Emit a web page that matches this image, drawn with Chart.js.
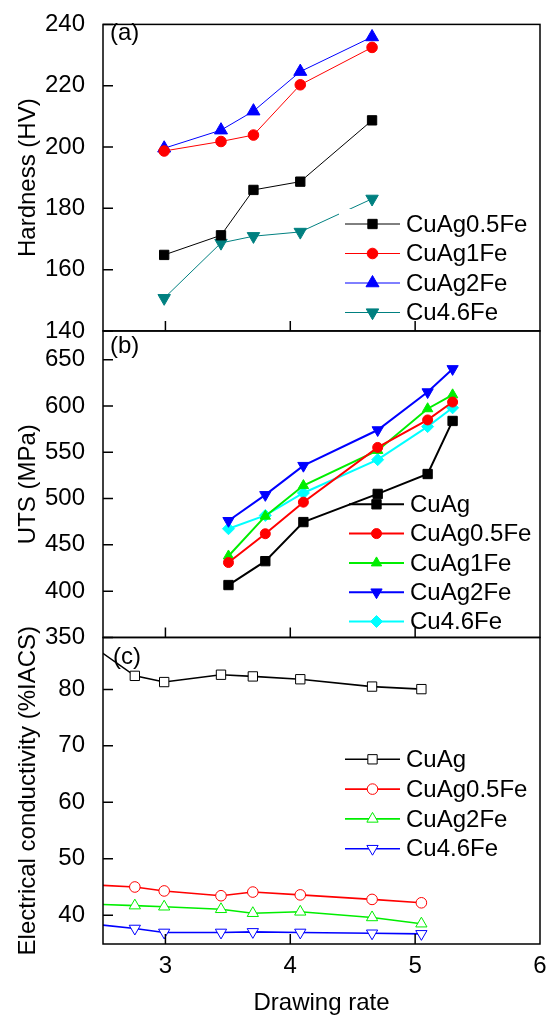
<!DOCTYPE html>
<html>
<head>
<meta charset="utf-8">
<title>Drawing rate</title>
<script src="https://cdn.jsdelivr.net/npm/chart.js"></script>
<style>
  html, body { margin: 0; padding: 0; background: #fff; }
  #wrap { position: relative; width: 553px; height: 1020px; }
</style>
</head>
<body>
<div id="wrap"><canvas id="rates" width="553" height="1020"></canvas></div>
<script>
// (a) hardness
const rateA = [2.99, 3.445, 3.705, 4.08, 4.655];
const hvCuAg05Fe = [164.8, 171.2, 186.0, 188.7, 208.7];
const hvCuAg1Fe = [198.7, 201.8, 203.9, 220.3, 232.5];
const hvCuAg2Fe = [199.6, 205.5, 211.7, 224.6, 235.9];
const hvCu46Fe = [150.7, 168.7, 170.9, 172.3, 183.1];

// (b) UTS
const rateB = [3.505, 3.80, 4.105, 4.70, 5.10, 5.30];
const utsCuAg = [406.6, 432.4, 474.6, 505, 526.5, 583.8];
const utsCuAg05Fe = [430.9, 462, 496.1, 555.2, 584.9, 604.2];
const utsCuAg1Fe = [438, 481, 514, 552, 597, 612];
const utsCuAg2Fe = [476, 504, 535.5, 574, 615, 640];
const utsCu46Fe = [467.4, 481.8, 506, 542, 577.7, 598];

// (c) electrical conductivity (first point lies left of the axis)
const rateC = [2.3, 2.755, 2.99, 3.445, 3.70, 4.08, 4.655, 5.05];
const ecCuAg = [89.5, 82.4, 81.3, 82.6, 82.3, 81.8, 80.5, 80.05];
const ecCuAg05Fe = [45.5, 45.0, 44.3, 43.45, 44.1, 43.6, 42.8, 42.2];
const ecCuAg2Fe = [42.05, 41.7, 41.5, 41.05, 40.35, 40.6, 39.6, 38.5];
const ecCu46Fe = [38.7, 37.65, 36.95, 36.95, 37.05, 36.95, 36.8, 36.7];

// tick labels
const rateTicks = [3, 4, 5, 6];
const hvTicks = [140, 160, 180, 200, 220, 240];
const utsTicks = [350, 400, 450, 500, 550, 600, 650];
const ecTicks = [40, 50, 60, 70, 80];

const FONT = "'Liberation Sans', Arial, sans-serif";
Chart.defaults.font.family = FONT;
Chart.defaults.font.size = 24;
Chart.defaults.color = '#000';

const series = (label, xs, ys, axis, st) => ({
  label,
  yAxisID: axis,
  data: xs.map((x, i) => ({ x, y: ys[i] })),
  borderColor: st.color,
  backgroundColor: st.fill,
  borderWidth: st.width,
  pointStyle: st.shape,
  pointRadius: st.r,
  pointRotation: st.rot || 0,
  pointBackgroundColor: st.fill,
  pointBorderColor: st.color,
  pointBorderWidth: 1,
  pointHoverRadius: st.r,
  tension: 0,
  clip: 0
});

const datasets = [
  series('CuAg0.5Fe', rateA, hvCuAg05Fe, 'ya', { color: '#000', fill: '#000', width: 1, shape: 'rect', r: 6.6 }),
  series('CuAg1Fe', rateA, hvCuAg1Fe, 'ya', { color: '#ff0000', fill: '#ff0000', width: 1, shape: 'circle', r: 5.3 }),
  series('CuAg2Fe', rateA, hvCuAg2Fe, 'ya', { color: '#0000ff', fill: '#0000ff', width: 1, shape: 'triangle', r: 7.5 }),
  series('Cu4.6Fe', rateA, hvCu46Fe, 'ya', { color: '#008080', fill: '#008080', width: 1, shape: 'triangle', r: 7.2, rot: 180 }),

  series('CuAg', rateB, utsCuAg, 'yb', { color: '#000', fill: '#000', width: 2, shape: 'rect', r: 6.6 }),
  series('CuAg0.5Fe', rateB, utsCuAg05Fe, 'yb', { color: '#ff0000', fill: '#ff0000', width: 2, shape: 'circle', r: 5 }),
  series('CuAg1Fe', rateB, utsCuAg1Fe, 'yb', { color: '#00ee00', fill: '#00ee00', width: 2, shape: 'triangle', r: 6 }),
  series('CuAg2Fe', rateB, utsCuAg2Fe, 'yb', { color: '#0000ff', fill: '#0000ff', width: 2, shape: 'triangle', r: 6.5, rot: 180 }),
  series('Cu4.6Fe', rateB, utsCu46Fe, 'yb', { color: '#00ffff', fill: '#00ffff', width: 2, shape: 'rectRot', r: 6 }),

  series('CuAg', rateC, ecCuAg, 'yc', { color: '#000', fill: '#fff', width: 1.6, shape: 'rect', r: 6.6 }),
  series('CuAg0.5Fe', rateC, ecCuAg05Fe, 'yc', { color: '#ff0000', fill: '#fff', width: 1.6, shape: 'circle', r: 5.3 }),
  series('CuAg2Fe', rateC, ecCuAg2Fe, 'yc', { color: '#00ee00', fill: '#fff', width: 1.6, shape: 'triangle', r: 6.5 }),
  series('Cu4.6Fe', rateC, ecCu46Fe, 'yc', { color: '#0000ff', fill: '#fff', width: 1.6, shape: 'triangle', r: 6.5, rot: 180 })
];

const yAxis = (min, max, tickList, title) => ({
  type: 'linear',
  position: 'left',
  stack: 'panels',
  stackWeight: 1,
  min, max,
  grid: { display: false },
  border: { display: false },
  afterBuildTicks: s => { s.ticks = tickList.map(v => ({ value: v })); },
  ticks: { padding: 10, autoSkip: false },
  title: { display: true, text: title, padding: { top: 14, bottom: 0 } },
  afterFit: s => { s.width = 103; }
});

// frame, inward ticks, panel tags and in-panel legends
const panelDecor = {
  id: 'panelDecor',
  afterDatasetsDraw(chart, args, opts) {
    const ctx = chart.ctx;
    const xs = chart.scales.x;
    ctx.save();
    ctx.font = '24px ' + FONT;
    for (const p of opts.panels) {
      const ys = chart.scales[p.axis];
      const items = chart.data.datasets.filter(d => d.yAxisID === p.axis);

      if (p.blank) {
        ctx.fillStyle = '#fff';
        ctx.fillRect(p.legX - 6, p.legY - 15, xs.right - p.legX, items.length * p.legStep + 12);
      }
      items.forEach((d, i) => {
        const y = p.legY + i * p.legStep;
        ctx.strokeStyle = d.borderColor;
        ctx.lineWidth = d.borderWidth;
        ctx.beginPath();
        ctx.moveTo(p.legX, y);
        ctx.lineTo(p.legX + 55, y);
        ctx.stroke();
        ctx.fillStyle = d.pointBackgroundColor;
        ctx.lineWidth = d.pointBorderWidth;
        Chart.helpers.drawPoint(ctx, {
          pointStyle: d.pointStyle, radius: d.pointRadius,
          rotation: d.pointRotation, borderWidth: d.pointBorderWidth
        }, p.legX + 27.5, y);
        ctx.fillStyle = '#000';
        ctx.textAlign = 'left';
        ctx.textBaseline = 'middle';
        ctx.fillText(d.label, p.legX + 61, y + 1);
      });

      ctx.fillStyle = '#000';
      ctx.textAlign = 'left';
      ctx.textBaseline = 'middle';
      ctx.fillText(p.tag, p.tagX, p.tagY);

      ctx.strokeStyle = '#000';
      ctx.lineWidth = 1.5;
      ctx.strokeRect(xs.left, ys.top, xs.right - xs.left, ys.bottom - ys.top);
      ctx.beginPath();
      ys.ticks.forEach(t => {
        const py = ys.getPixelForValue(t.value);
        ctx.moveTo(xs.left, py);
        ctx.lineTo(xs.left + 10, py);
      });
      rateTicks.forEach(v => {
        if (v >= xs.max) return;
        const px = xs.getPixelForValue(v);
        ctx.moveTo(px, ys.bottom);
        ctx.lineTo(px, ys.bottom - 10);
      });
      ctx.stroke();
    }
    ctx.restore();
  }
};

new Chart(document.getElementById('rates'), {
  type: 'line',
  data: { datasets },
  options: {
    responsive: false,
    animation: false,
    events: [],
    layout: { padding: { top: 19, right: 13, left: 0, bottom: 0 } },
    scales: {
      x: {
        type: 'linear',
        position: 'bottom',
        min: 2.5, max: 6,
        grid: { display: false },
        border: { display: false },
        afterBuildTicks: s => { s.ticks = rateTicks.map(v => ({ value: v })); },
        ticks: { padding: 0, autoSkip: false, maxRotation: 0 },
        title: { display: true, text: 'Drawing rate', padding: { top: 4, bottom: 2 } },
        afterFit: s => { s.height = 76; }
      },
      yc: yAxis(34.9, 89.2, ecTicks, 'Electrical conductivity (%IACS)'),
      yb: yAxis(350, 681, utsTicks, 'UTS (MPa)'),
      ya: yAxis(140, 240, hvTicks, 'Hardness (HV)')
    },
    plugins: {
      legend: { display: false },
      tooltip: { enabled: false },
      panelDecor: {
        panels: [
          { axis: 'ya', tag: '(a)', tagX: 110, tagY: 33, legX: 345, legY: 224, legStep: 29.5, blank: true },
          { axis: 'yb', tag: '(b)', tagX: 110, tagY: 346, legX: 349, legY: 504.3, legStep: 29.3 },
          { axis: 'yc', tag: '(c)', tagX: 113, tagY: 657, legX: 345, legY: 759.3, legStep: 29.8 }
        ]
      }
    }
  },
  plugins: [panelDecor]
});
</script>
</body>
</html>
